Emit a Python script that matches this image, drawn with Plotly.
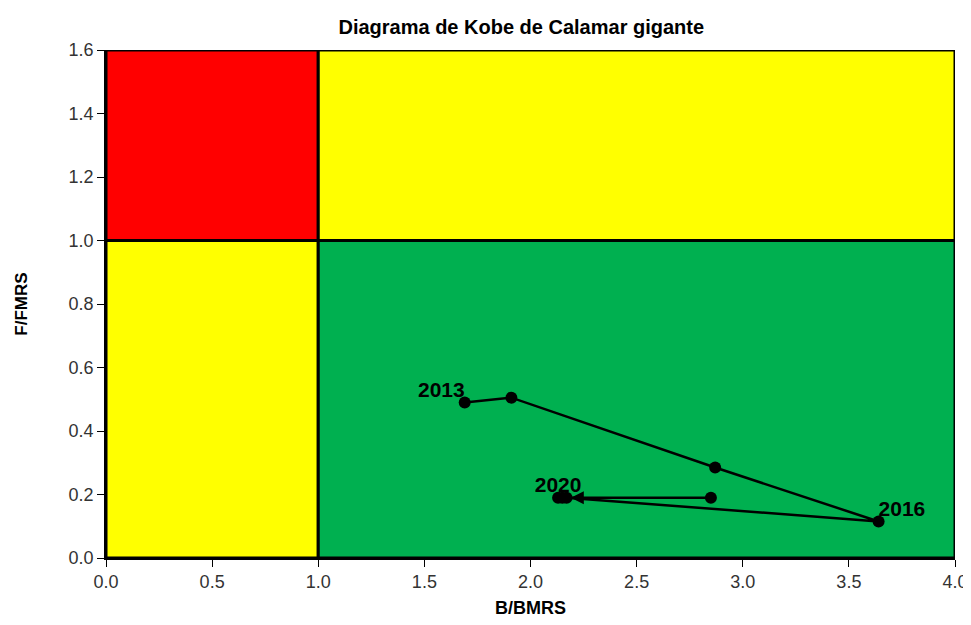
import plotly.graph_objects as go

years = ["2013", "2014", "2015", "2016", "2017", "2018", "2019", "2020"]
b_bmrs = [1.69, 1.91, 2.87, 3.64, 2.17, 2.85, 2.15, 2.13]
f_fmrs = [0.49, 0.505, 0.285, 0.115, 0.19, 0.19, 0.19, 0.19]
labelled_years = ["2013", "2016", "2020"]
label_pos = {"2013": "top left", "2016": "top right", "2020": "top center"}

x_ticks = [0.0, 0.5, 1.0, 1.5, 2.0, 2.5, 3.0, 3.5, 4.0]
y_ticks = [0.0, 0.2, 0.4, 0.6, 0.8, 1.0, 1.2, 1.4, 1.6]

zones = [  # x0, x1, y0, y1, colour
    (0, 1, 1, 1.6, "#FF0000"),
    (1, 4, 1, 1.6, "#FFFF00"),
    (0, 1, 0, 1, "#FFFF00"),
    (1, 4, 0, 1, "#00B050"),
]

fig = go.Figure()
for x0, x1, y0, y1, c in zones:
    fig.add_shape(type="rect", x0=x0, x1=x1, y0=y0, y1=y1, xref="x", yref="y",
                  fillcolor=c, line=dict(color="black", width=3), layer="below")

fig.add_trace(go.Scatter(
    x=b_bmrs, y=f_fmrs, mode="lines+markers",
    line=dict(color="black", width=2.5),
    marker=dict(color="black", size=12),
    showlegend=False, hoverinfo="skip"))

# arrowhead on the last segment
fig.add_trace(go.Scatter(
    x=[b_bmrs[-2] + 0.04], y=[f_fmrs[-2]], mode="markers",
    marker=dict(symbol="arrow-left", size=13, color="black"),
    showlegend=False, hoverinfo="skip"))

for yr in labelled_years:
    i = years.index(yr)
    fig.add_trace(go.Scatter(
        x=[b_bmrs[i]], y=[f_fmrs[i]], mode="text", text=[yr],
        textposition=label_pos[yr],
        textfont=dict(family="Liberation Sans, Arial", size=21, color="black", weight="bold"),
        showlegend=False, hoverinfo="skip"))

fig.update_layout(
    width=963, height=617,
    margin=dict(l=98, r=16, t=42, b=67),
    paper_bgcolor="white", plot_bgcolor="white",
    title=dict(text="<b>Diagrama de Kobe de Calamar gigante</b>", x=0.533, xanchor="center",
               y=0.98, yanchor="top",
               font=dict(family="Liberation Sans", size=20, color="black")),
    font=dict(family="Liberation Sans, Arial", color="#222"),
)
fig.update_xaxes(range=[0, 4], tickvals=x_ticks, ticktext=[f"{v:.1f}" for v in x_ticks],
                 showgrid=False, zeroline=False, showline=True, linecolor="black", linewidth=1.5,
                 ticks="outside", ticklen=7, tickcolor="black", automargin=False,
                 tickfont=dict(family="Liberation Sans", size=18, color="#333"),
                 title=dict(text="<b>B/BMRS</b>", font=dict(family="Liberation Sans", size=18, color="black"), standoff=10))
fig.update_yaxes(range=[0, 1.6], tickvals=y_ticks, ticktext=[f"{v:.1f}" for v in y_ticks],
                 showgrid=False, zeroline=False, showline=True, linecolor="black", linewidth=1.5,
                 ticks="outside", ticklen=7, tickcolor="black", automargin=False,
                 tickfont=dict(family="Liberation Sans", size=18, color="#333"),
                 title=dict(text="<b>F/FMRS</b>", font=dict(family="Liberation Sans", size=17, color="black"), standoff=37))

fig.write_html("out.html")
